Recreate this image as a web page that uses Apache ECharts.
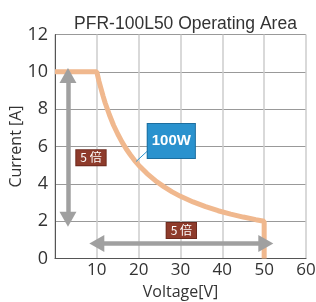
<!DOCTYPE html>
<html>
<head>
<meta charset="utf-8">
<script src="https://cdn.jsdelivr.net/npm/echarts@6/dist/echarts.min.js"></script>
<style>
  html, body { margin: 0; padding: 0; background: #fff; }
  #chart { width: 316px; height: 302px; }
</style>
</head>
<body>
<div id="chart"></div>
<script>
// 動作範囲 (電圧 V / 電流 A)
const voltage = [0, 10, 10.5, 11, 11.5, 12, 13, 14, 15, 16, 17, 18, 19, 20, 22, 24, 26, 28, 30, 33, 36, 39, 42, 45, 48, 50, 50]
const current = [10, 10, 9.5, 9.1, 8.7, 8.33, 7.7, 7.14, 6.67, 6.25, 5.88, 5.56, 5.26, 5, 4.55, 4.17, 3.85, 3.57, 3.33, 3.03, 2.78, 2.56, 2.38, 2.22, 2.08, 2, 0]
const xTicks = [0, 10, 20, 30, 40, 50, 60]
const yTicks = [0, 2, 4, 6, 8, 10, 12]

// 注記
const currentArrow = [[3.1, 9.8], [3.1, 2.1]]
const voltageArrow = [[10, 0.8], [50.4, 0.8]]
const ratioLabels = [[8.6, 5.4], [30.2, 1.5]]
const ratioText = '5 倍'
const powerLabel = [27.8, 6.3]
const powerLeader = [[22.3, 5.8], [19.4, 5.2]]
const powerText = '100W'

const font = 'Liberation Sans, Arial, sans-serif'
const axisFont = 'Open Sans, sans-serif'
const cjkFont = 'Noto Sans CJK JP, sans-serif'

const chart = echarts.init(document.getElementById('chart'))

const arrowLine = (pts) => [{ coord: pts[0] }, { coord: pts[1] }]

const option = {
  animation: false,
  title: {
    text: 'PFR-100L50 Operating Area',
    left: 180.5,
    top: 10,
    textAlign: 'center',
    textStyle: { fontFamily: font, fontSize: 17.5, fontWeight: 'normal', color: '#333' }
  },
  grid: { left: 55, right: 10, top: 34.5, bottom: 43.5, containLabel: false, outerBoundsMode: 'none' },
  xAxis: {
    type: 'value',
    min: xTicks[0],
    max: xTicks[xTicks.length - 1],
    interval: 10,
    name: 'Voltage[V]',
    nameLocation: 'middle',
    nameGap: 26,
    nameTextStyle: { fontFamily: axisFont, fontSize: 16, color: '#333' },
    axisLine: { lineStyle: { color: '#555', width: 1 } },
    axisTick: { show: false },
    axisLabel: {
      fontFamily: axisFont, fontSize: 17, color: '#333', margin: 3,
      formatter: v => (v === 0 ? '' : v)
    },
    splitLine: { show: true, lineStyle: { color: '#cccccc', width: 1.5 } }
  },
  yAxis: {
    type: 'value',
    min: yTicks[0],
    max: yTicks[yTicks.length - 1],
    interval: 2,
    name: 'Current [A]',
    nameLocation: 'middle',
    nameGap: 31,
    nameMoveOverlap: false,
    nameTextStyle: { fontFamily: axisFont, fontSize: 16, color: '#333' },
    axisLine: { show: true, lineStyle: { color: '#555', width: 1 } },
    axisTick: { show: false },
    axisLabel: { fontFamily: axisFont, fontSize: 18, color: '#333', margin: 7 },
    splitLine: { show: true, lineStyle: { color: '#999', width: 1 } }
  },
  series: [
    {
      type: 'line',
      data: voltage.map((v, i) => [v, current[i]]),
      showSymbol: false,
      lineStyle: { color: '#f0b88e', width: 5 },
      z: 3
    },
    {
      type: 'line',
      data: [],
      silent: true,
      markLine: {
        silent: true,
        symbol: ['triangle', 'triangle'],
        symbolSize: [17, 15],
        label: { show: false },
        lineStyle: { color: '#a0a0a0', width: 4.5, type: 'solid' },
        data: [arrowLine(currentArrow), arrowLine(voltageArrow)]
      },
      z: 2
    },
    {
      type: 'line',
      data: powerLeader,
      showSymbol: false,
      lineStyle: { color: '#2a92ce', width: 1 },
      z: 4
    },
    {
      type: 'scatter',
      data: ratioLabels,
      symbolSize: 0,
      itemStyle: { opacity: 1 },
      label: {
        show: true,
        position: 'inside',
        formatter: ratioText,
        fontFamily: cjkFont,
        fontSize: 12,
        color: '#fff',
        backgroundColor: '#8e3b2b',
        borderColor: '#6e2a1e',
        borderWidth: 1,
        padding: [2, 4, 1, 4]
      },
      z: 5
    },
    {
      type: 'scatter',
      data: [powerLabel],
      symbolSize: 0,
      itemStyle: { opacity: 1 },
      label: {
        show: true,
        position: 'inside',
        formatter: powerText,
        fontFamily: font,
        fontSize: 15,
        fontWeight: 'bold',
        color: '#fff',
        backgroundColor: '#2a92ce',
        borderColor: '#1c6e9f',
        borderWidth: 1,
        padding: [10, 4, 9, 4]
      },
      z: 6
    }
  ]
}

chart.setOption(option)
</script>
</body>
</html>
